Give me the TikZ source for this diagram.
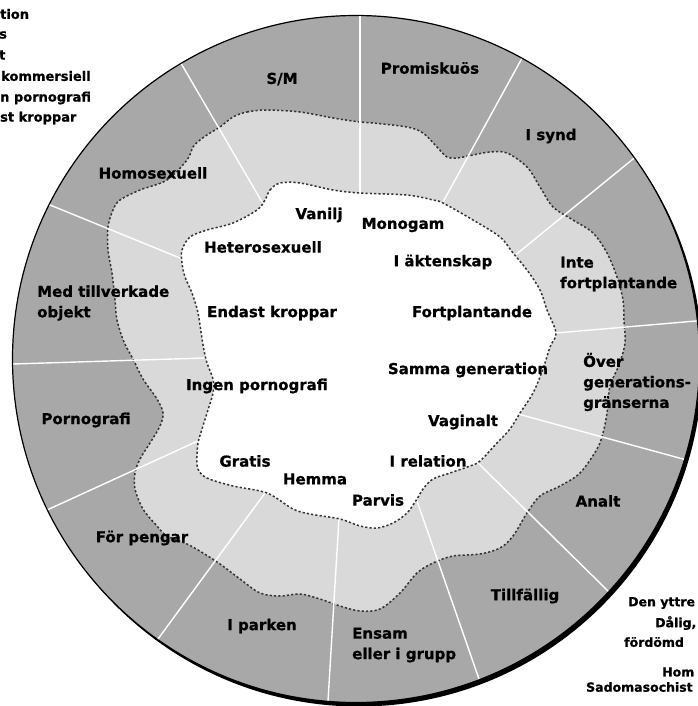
\documentclass[tikz,border=0pt]{standalone}
\usepackage{fontspec}
\setmainfont{DejaVu Sans}[BoldFeatures={FakeBold=0.8}]
\usetikzlibrary{calc}
\definecolor{ringgray}{gray}{0.66}
\definecolor{midgray}{gray}{0.85}
\begin{document}
\begin{tikzpicture}[x=1pt,y=-1pt,
  lab/.style={font=\bfseries\fontsize{15}{20.5}\selectfont, inner sep=0pt, align=left},
  side/.style={font=\bfseries\fontsize{13}{21}\selectfont, inner sep=0pt, anchor=west},
  sider/.style={font=\bfseries\fontsize{12.5}{19}\selectfont, inner sep=0pt, anchor=west},
  bound/.style={draw=black!80, line width=1.5pt, dash pattern=on 2.2pt off 2.1pt},
  spoke/.style={white, line width=1.4pt}]
\useasboundingbox (0,0) rectangle (697,706);
\coordinate (c) at (356,359);
\coordinate (cs) at (359,363);
% shadow and outer ring
\fill[black] (cs) circle[radius=343.5pt];
\fill[ringgray] (c) circle[radius=343.5pt];
\draw[line width=1.2pt] (c) circle[radius=343.5pt];
% middle zone
\draw[bound, fill=midgray] plot[smooth cycle, tension=0.55] coordinates {
 (233,117) (247,112) (267,110) (300,112) (333,118) (360,122) (373,123) (407,127)
 (423,133) (437,147) (447,157) (457,158) (473,155) (490,152) (507,153) (527,167)
 (540,187) (553,207) (573,220) (593,233) (607,253) (617,277) (623,300) (624,322)
 (625,343) (619,365) (610,386) (607,413) (603,433) (597,449) (580,473) (560,486)
 (540,496) (527,513) (513,536) (500,548) (480,554) (453,556) (433,563) (417,573)
 (400,593) (380,609) (360,611) (340,606) (320,599) (300,594) (280,596) (260,593)
 (240,579) (220,564) (203,553) (187,544) (167,536) (157,526) (143,509) (135,489)
 (135,473) (140,459) (150,443) (160,426) (163,413) (157,399) (143,379) (133,359)
 (124,342) (117,320) (115,300) (112,273) (108,250) (108,227) (113,210) (120,200)
 (140,190) (167,180) (187,160) (193,147) (200,140) (210,133) (220,127)};
% spokes
\coordinate (i1) at (360,193);  \coordinate (o1) at (360,17);
\coordinate (i2) at (443,202);  \coordinate (o2) at (521,60);
\coordinate (i3) at (513,257);  \coordinate (o3) at (633,159);
\coordinate (i4) at (556,333);  \coordinate (o4) at (696,321);
\coordinate (i5) at (518,414);  \coordinate (o5) at (683,459);
\coordinate (i6) at (479,464);  \coordinate (o6) at (608,591);
\coordinate (i7) at (417,501);  \coordinate (o7) at (479,679);
\coordinate (i8) at (339,518);  \coordinate (o8) at (328,701);
\coordinate (i9) at (265,493);  \coordinate (o9) at (158,639);
\coordinate (i10) at (200,440); \coordinate (o10) at (47,510);
\coordinate (i11) at (205,358); \coordinate (o11) at (13,364);
\coordinate (i12) at (180,258); \coordinate (o12) at (50,205);
\coordinate (i13) at (262,202); \coordinate (o13) at (182,65);
\begin{scope}
\clip (c) circle[radius=342.8pt];
\foreach \k in {1,...,13}{
  \draw[spoke] ($(o\k)!1.08!(i\k)$) -- ($(i\k)!1.1!(o\k)$);
}
\end{scope}
% inner zone
\draw[bound, fill=white] plot[smooth cycle, tension=0.55] coordinates {
 (265,200) (270,190) (280,183) (300,183) (333,190) (360,193) (407,195) (433,200)
 (443,203) (473,220) (500,237) (513,253) (527,270) (540,290) (547,310) (556,333)
 (550,347) (543,369) (533,393) (520,413) (510,429) (497,443) (480,461) (470,466)
 (450,473) (433,479) (423,489) (417,499) (407,513) (393,523) (377,528) (360,526)
 (340,519) (310,514) (293,509) (267,493) (233,486) (207,478) (198,469) (197,456)
 (198,443) (202,429) (207,413) (213,393) (213,379) (207,363) (203,345) (198,313)
 (192,293) (185,277) (182,263) (182,250) (190,237) (207,230) (233,223) (257,210)};
% outer labels
\node[lab] (sm) at (282,79) {S/M};
\node[lab] (prom) at (430,68) {Promiskuös};
\node[lab] (synd) at (551,136) {I synd};
\node[lab, anchor=west] (inte) at (560,274) {Inte\\fortplantande};
\node[lab, anchor=west] (over) at (583,382) {Över\\generations-\\gränserna};
\node[lab] (analt) at (598,501) {Analt};
\node[lab] (till) at (525,596) {Tillfällig};
\node[lab, anchor=west] (ensam) at (352,645) {Ensam\\eller i grupp};
\node[lab] (park) at (262,626) {I parken};
\node[lab] (peng) at (142,538) {För pengar};
\node[lab] (porn) at (86,420) {Pornografi};
\node[lab, anchor=west] (med) at (37,303) {Med tillverkade\\objekt};
\node[lab] (homo) at (153,173) {Homosexuell};
% inner labels
\node[lab] (van) at (319,215) {Vanilj};
\node[lab] (mono) at (403,225) {Monogam};
\node[lab] (het) at (263,247) {Heterosexuell};
\node[lab] (akt) at (443,262) {I äktenskap};
\node[lab] (endast) at (272,313) {Endast kroppar};
\node[lab] (fort) at (472,313) {Fortplantande};
\node[lab] (samma) at (468,370) {Samma generation};
\node[lab] (ingen) at (257,386) {Ingen pornografi};
\node[lab] (vag) at (463,422) {Vaginalt};
\node[lab] (grat) at (245,461) {Gratis};
\node[lab] (rel) at (428,461) {I relation};
\node[lab] (hem) at (315,479) {Hemma};
\node[lab] (parv) at (378,500) {Parvis};
% cropped side texts
\node[side] (t1) at (0,14) {tion};
\node[side] (t2) at (-1,35) {s};
\node[side] (t3) at (-1,55) {t};
\node[side] (t4) at (1,76) {kommersiell};
\node[side] (t5) at (0,98) {n pornografi};
\node[side] (t6) at (0,118) {st kroppar};
\node[sider] (b1) at (628,603) {Den yttre};
\node[sider] (b2) at (655,623) {Dålig,};
\node[sider] (b3) at (624,642) {fördömd};
\node[sider] (b4) at (662,672) {Hom};
\node[sider] (b5) at (586,687) {Sadomasochist};
\end{tikzpicture}
\end{document}
